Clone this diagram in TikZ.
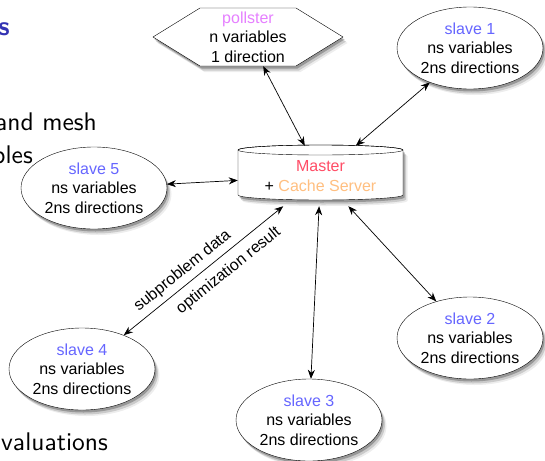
\documentclass[tikz,border=0pt]{standalone}
\usepackage{fontspec}
\setmainfont{Liberation Sans}
\usetikzlibrary{shapes.geometric,shadows,arrows.meta}
\definecolor{titleblue}{HTML}{3333B3}
\definecolor{pollcol}{HTML}{E680FF}
\definecolor{mastercol}{HTML}{FF4D66}
\definecolor{cachecol}{HTML}{FFBF80}
\definecolor{slavecol}{HTML}{6666FF}
\newcommand{\slidetxt}[1]{\scalebox{2.55}{\sffamily\fontsize{10}{12}\selectfont #1}}
\begin{document}
\begin{tikzpicture}[x=1pt,y=-1pt,
  myshadow/.style={drop shadow={shadow xshift=1.5pt,shadow yshift=-2.5pt,opacity=0.25,fill=black},
                   drop shadow={shadow xshift=3pt,shadow yshift=-4.5pt,opacity=0.15,fill=black},
                   drop shadow={shadow xshift=4.5pt,shadow yshift=-6pt,opacity=0.07,fill=black}},
  nodetext/.style={font=\fontsize{16}{19.5}\selectfont, align=center},
  slavebox/.style={ellipse, draw, fill=white, myshadow, inner sep=0pt,
                   minimum width=146pt, minimum height=82pt, nodetext},
  conn/.style={{Stealth[length=9pt,width=7pt]}-{Stealth[length=9pt,width=7pt]}, line width=0.7pt},
  lbl/.style={font=\fontsize{16}{19}\selectfont, inner sep=1pt, sloped},
  slidetext/.style={inner sep=0pt}
]
\useasboundingbox (0,0) rectangle (545,460);

% background slide text (cropped)
\node[slidetext, anchor=base east, text=titleblue] (ttl) at (10,35)
  {\scalebox{2.7}{\sffamily\bfseries\fontsize{10}{12}\selectfont s}};
\node[slidetext, anchor=base east] (t1) at (97,130) {\slidetxt{and mesh}};
\node[slidetext, anchor=base east] (t2) at (33,163) {\slidetxt{bles}};
\node[slidetext, anchor=base east] (t3) at (108,450) {\slidetxt{valuations}};

% pollster hexagon
\draw[fill=white, myshadow] (153,37) -- (200,8) -- (296,8) -- (343,37) -- (296,66) -- (200,66) -- cycle;
\node[nodetext, minimum width=96pt, minimum height=58pt, inner sep=0pt] (pollster) at (248,37)
  {\textcolor{pollcol}{pollster}\\n variables\\1 direction};

% master cylinder
\draw[fill=white, myshadow] (238,150) -- (238,195)
  arc[start angle=180, end angle=360, x radius=82.5pt, y radius=5pt]
  -- (403,150) arc[start angle=0, end angle=180, x radius=82.5pt, y radius=5pt] -- cycle;
\draw (320.5,150) ellipse[x radius=82.5pt, y radius=5pt];
\node[nodetext, minimum width=165pt, minimum height=60pt, inner sep=0pt] (master) at (320.5,176)
  {\textcolor{mastercol}{Master}\\+ \textcolor{cachecol}{Cache Server}};

% slaves
\node[slavebox] (s1) at (470,48)  {\textcolor{slavecol}{slave 1}\\ns variables\\2ns directions};
\node[slavebox] (s2) at (470,338) {\textcolor{slavecol}{slave 2}\\ns variables\\2ns directions};
\node[slavebox] (s3) at (309,420) {\textcolor{slavecol}{slave 3}\\ns variables\\2ns directions};
\node[slavebox] (s4) at (82,369)  {\textcolor{slavecol}{slave 4}\\ns variables\\2ns directions};
\node[slavebox] (s5) at (94,188)  {\textcolor{slavecol}{slave 5}\\ns variables\\2ns directions};

% connectors
\draw[conn] (pollster) -- (master);
\draw[conn] (s1) -- (master);
\draw[conn] (s5) -- (master);
\draw[conn] (master) -- (s2);
\draw[conn] (master) -- (s3);
\draw[conn] (s4) -- (master)
  node[lbl, pos=0.42, above=4pt] {subproblem data}
  node[lbl, pos=0.595, below=7pt] {optimization result};
\end{tikzpicture}
\end{document}
